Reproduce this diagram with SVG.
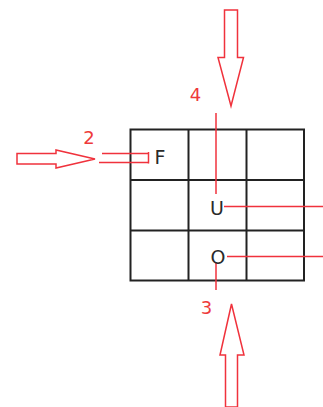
<svg xmlns="http://www.w3.org/2000/svg" width="323" height="407" viewBox="0 0 323 407">
<style>
.grid{fill:none;stroke:#222;stroke-width:2}
.red{fill:none;stroke:#f0323c;stroke-width:1.5}
.arrow{fill:#fff;stroke:#f0323c;stroke-width:1.5;stroke-linejoin:miter}
.lbl{font-family:"DejaVu Sans",sans-serif;font-size:18px;fill:#ee3a3a;text-anchor:middle}
.let{font-family:"DejaVu Sans",sans-serif;font-size:19px;fill:#2a2a2a;text-anchor:middle}
</style>
<rect width="323" height="407" fill="#fff"/>
<g id="grid">
<rect class="grid" x="130.5" y="129.5" width="173.5" height="151"/>
<line class="grid" x1="188.5" y1="129.5" x2="188.5" y2="280.5"/>
<line class="grid" x1="246.5" y1="129.5" x2="246.5" y2="280.5"/>
<line class="grid" x1="130.5" y1="180" x2="304" y2="180"/>
<line class="grid" x1="130.5" y1="230.5" x2="304" y2="230.5"/>
</g>
<g id="connectors">
<line class="red" x1="216" y1="113" x2="216" y2="194"/>
<line class="red" x1="224" y1="206.5" x2="323" y2="206.5"/>
<line class="red" x1="227" y1="256.5" x2="323" y2="256.5"/>
<line class="red" x1="216" y1="263" x2="216" y2="290"/>
<line class="red" x1="102" y1="153.5" x2="148.5" y2="153.5"/>
<line class="red" x1="99" y1="162.5" x2="148.5" y2="162.5"/>
<line class="red" x1="148.5" y1="152" x2="148.5" y2="163.5"/>
</g>
<g id="arrow-left">
<polygon class="arrow" points="17,153.5 56,153.5 56,150 95,159 56,168 56,164 17,164"/>
</g>
<g id="arrow-top">
<polygon class="arrow" points="224.5,10 237.5,10 237.5,57.5 243.5,57.5 231,106 218,57.5 224.5,57.5"/>
</g>
<g id="arrow-bottom">
<polygon class="arrow" points="225.5,407 237.5,407 237.5,355 244,355 231.5,304 220,355 225.5,355"/>
</g>
<g id="labels">
<text class="lbl" x="89" y="143.5">2</text>
<text class="lbl" x="195.5" y="100.5">4</text>
<text class="lbl" x="206.5" y="313.5">3</text>
</g>
<g id="node-F"><text class="let" x="160" y="163.5">F</text></g>
<g id="node-U"><text class="let" x="217" y="214.5">U</text></g>
<g id="node-O"><text class="let" x="218" y="264">O</text></g>
</svg>
